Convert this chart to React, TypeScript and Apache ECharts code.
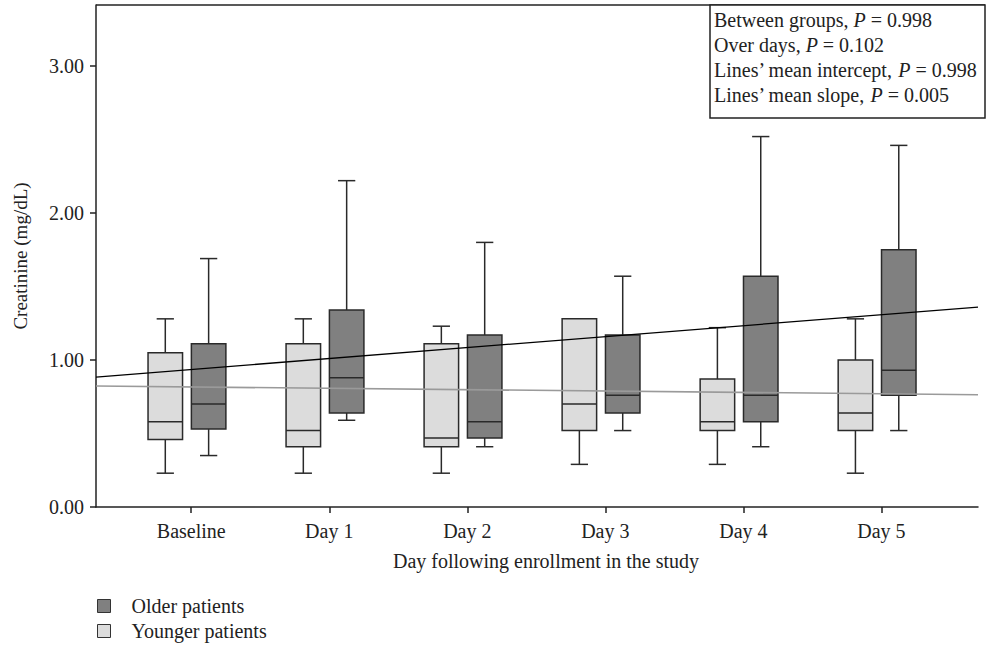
import React, { useEffect, useRef } from 'react';
import * as echarts from 'echarts';

// ---------- data ----------
const categories = ['Baseline', 'Day 1', 'Day 2', 'Day 3', 'Day 4', 'Day 5'];
const categoryIndex = [0, 1, 2, 3, 4, 5];

// [min, Q1, median, Q3, max]
const youngerStats = [
  [0.23, 0.46, 0.58, 1.05, 1.28],
  [0.23, 0.41, 0.52, 1.11, 1.28],
  [0.23, 0.41, 0.47, 1.11, 1.23],
  [0.29, 0.52, 0.7, 1.28, 1.28],
  [0.29, 0.52, 0.58, 0.87, 1.22],
  [0.23, 0.52, 0.64, 1.0, 1.28],
];
const olderStats = [
  [0.35, 0.53, 0.7, 1.11, 1.69],
  [0.59, 0.64, 0.88, 1.34, 2.22],
  [0.41, 0.47, 0.58, 1.17, 1.8],
  [0.52, 0.64, 0.76, 1.17, 1.57],
  [0.41, 0.58, 0.76, 1.57, 2.52],
  [0.52, 0.76, 0.93, 1.75, 2.46],
];

// regression lines: [x, y] endpoints
const olderTrend = [
  [-0.69, 0.884],
  [5.7, 1.36],
];
const youngerTrend = [
  [-0.69, 0.823],
  [5.7, 0.764],
];

const yTicks = [0, 1, 2, 3];
const annotationLines = [
  ['Between groups, ', '0.998'],
  ['Over days, ', '0.102'],
  ['Lines\u2019 mean intercept, ', '0.998'],
  ['Lines\u2019 mean slope, ', '0.005'],
];
const seriesNames = ['Younger patients', 'Older patients'];

// ---------- styles ----------
const FONT = '"Liberation Serif", "DejaVu Serif", serif';
const FS = 20;
const INK = '#222';
const YOUNG_FILL = '#dcdcdc';
const OLD_FILL = '#808080';
const BOX_STROKE = '#2a2a2a';
const BOX_W = 0.25;

const makeRender = (offset: number, fill: string) => (params: any, api: any) => {
  const xc = api.value(0) + offset;
  const pMin = api.coord([xc, api.value(1)]);
  const pQ1 = api.coord([xc, api.value(2)]);
  const pMed = api.coord([xc, api.value(3)]);
  const pQ3 = api.coord([xc, api.value(4)]);
  const pMax = api.coord([xc, api.value(5)]);
  const w = api.size([BOX_W, 0])[0];
  const cap = w / 4;
  const x = pMin[0];
  const ls = { stroke: BOX_STROKE, lineWidth: 1.5 };
  return {
    type: 'group',
    children: [
      { type: 'line', shape: { x1: x, y1: pMax[1], x2: x, y2: pQ3[1] }, style: ls },
      { type: 'line', shape: { x1: x, y1: pQ1[1], x2: x, y2: pMin[1] }, style: ls },
      { type: 'line', shape: { x1: x - cap, y1: pMax[1], x2: x + cap, y2: pMax[1] }, style: ls },
      { type: 'line', shape: { x1: x - cap, y1: pMin[1], x2: x + cap, y2: pMin[1] }, style: ls },
      {
        type: 'rect',
        shape: { x: x - w / 2, y: pQ3[1], width: w, height: pQ1[1] - pQ3[1] },
        style: { fill, stroke: BOX_STROKE, lineWidth: 1.5 },
      },
      { type: 'line', shape: { x1: x - w / 2, y1: pMed[1], x2: x + w / 2, y2: pMed[1] }, style: ls },
    ],
  };
};

export default function App() {
  const ref = useRef<HTMLDivElement>(null);
  useEffect(() => {
    if (!ref.current) return;
    const chart = echarts.init(ref.current, null, { renderer: 'svg' });
    const youngData = categoryIndex.map((c, i) => [c, ...youngerStats[i]]);
    const oldData = categoryIndex.map((c, i) => [c, ...olderStats[i]]);
    const option: any = {
      animation: false,
      backgroundColor: '#fff',
      grid: { left: 96, right: 16, top: 5, bottom: 149, containLabel: false },
      xAxis: {
        type: 'value',
        min: -0.69,
        max: 5.7,
        name: 'Day following enrollment in the study',
        nameLocation: 'middle',
        nameGap: 44,
        nameTextStyle: { fontFamily: FONT, fontSize: FS, color: INK, padding: [0, 0, 0, 18] },
        axisLine: { show: true, onZero: false, lineStyle: { color: INK, width: 1.5 } },
        axisTick: { show: true, length: 6, lineStyle: { color: INK, width: 1.5 }, customValues: categoryIndex },
        axisLabel: {
          customValues: categoryIndex,
          margin: 14,
          fontFamily: FONT,
          fontSize: FS,
          color: INK,
          formatter: (v: number) => categories[Math.round(v)],
        },
        splitLine: { show: false },
      },
      yAxis: {
        type: 'value',
        min: 0,
        max: 3.415,
        name: 'Creatinine (mg/dL)',
        nameLocation: 'middle',
        nameGap: 66,
        nameTextStyle: { fontFamily: FONT, fontSize: FS - 1, color: INK },
        axisLine: { show: true, onZero: false, lineStyle: { color: INK, width: 1.5 } },
        axisTick: { show: true, length: 6, lineStyle: { color: INK, width: 1.5 }, customValues: yTicks },
        axisLabel: {
          customValues: yTicks,
          margin: 12,
          fontFamily: FONT,
          fontSize: FS,
          color: INK,
          formatter: (v: number) => v.toFixed(2),
        },
        splitLine: { show: false },
      },
      legend: {
        orient: 'vertical',
        left: 97,
        top: 596,
        padding: 0,
        itemWidth: 13,
        itemHeight: 13,
        itemGap: 5,
        icon: 'rect',
        textStyle: { fontFamily: FONT, fontSize: FS, color: INK, padding: [0, 0, 0, 16] },
        data: [
          { name: seriesNames[1], itemStyle: { color: OLD_FILL, borderColor: '#333', borderWidth: 1 } },
          { name: seriesNames[0], itemStyle: { color: YOUNG_FILL, borderColor: '#333', borderWidth: 1 } },
        ],
      },
      series: [
        {
          name: seriesNames[0],
          type: 'custom',
          renderItem: makeRender(-0.188, YOUNG_FILL),
          encode: { x: 0, y: [1, 2, 3, 4, 5] },
          itemStyle: { color: YOUNG_FILL, borderColor: '#333' },
          data: youngData,
          z: 2,
        },
        {
          name: seriesNames[1],
          type: 'custom',
          renderItem: makeRender(0.126, OLD_FILL),
          encode: { x: 0, y: [1, 2, 3, 4, 5] },
          itemStyle: { color: OLD_FILL, borderColor: '#333' },
          data: oldData,
          z: 2,
        },
        {
          name: 'Older trend',
          type: 'line',
          data: olderTrend,
          symbol: 'none',
          lineStyle: { color: '#000', width: 1.3 },
          z: 5,
        },
        {
          name: 'Younger trend',
          type: 'line',
          data: youngerTrend,
          symbol: 'none',
          lineStyle: { color: '#9a9a9a', width: 1.6 },
          z: 5,
        },
      ],
      graphic: [
        { type: 'line', shape: { x1: 96, y1: 5, x2: 985, y2: 5 }, style: { stroke: INK, lineWidth: 1.5 }, z: 10 },
        {
          type: 'rect',
          shape: { x: 710, y: 5, width: 275, height: 113 },
          style: { fill: '#fff', stroke: INK, lineWidth: 1.5 },
          z: 10,
        },
        ...annotationLines.map((ln, i) => ({
          type: 'text',
          x: 714,
          y: 20 + i * 25,
          z: 11,
          style: {
            text: `{a|${ln[0]}}{i|P}{a| = ${ln[1]}}`,
            verticalAlign: 'middle',
            fontFamily: FONT,
            fontSize: FS,
            fill: INK,
            rich: {
              a: { fontFamily: FONT, fontSize: FS, color: INK },
              i: { fontFamily: FONT, fontSize: FS, color: INK, fontStyle: 'italic' },
            },
          },
        })),
      ],
    };
    chart.setOption(option);
    return () => chart.dispose();
  }, []);
  return (
    <div
      ref={ref}
      style={{ position: 'fixed', left: 0, top: 0, width: 994, height: 656, background: '#fff' }}
    />
  );
}
